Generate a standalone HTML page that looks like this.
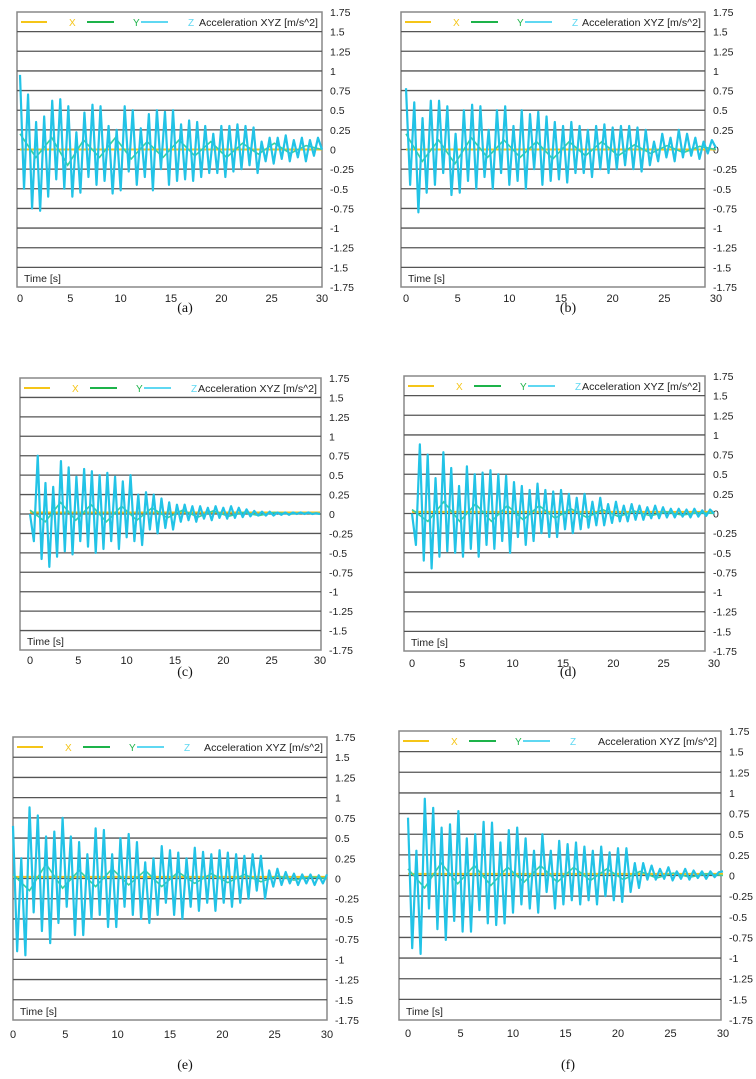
<!DOCTYPE html>
<html><head><meta charset="utf-8"><style>
html,body{margin:0;padding:0;background:#fff;}
svg{display:block;font-family:"Liberation Sans",sans-serif;}
</style></head><body>
<svg id="fig" width="756" height="1079" viewBox="0 0 756 1079"></svg>
<script>
const yTicks = ["1.75","1.5","1.25","1","0.75","0.5","0.25","0","-0.25","-0.5","-0.75","-1","-1.25","-1.5","-1.75"];
const xTicks = [0,5,10,15,20,25,30];
const captions = ["(a)","(b)","(c)","(d)","(e)","(f)"];
const zA = [0.95,-0.5,0.7,-0.75,0.35,-0.78,0.42,-0.6,0.62,-0.38,0.64,-0.5,0.55,-0.6,0.22,-0.55,0.47,-0.35,0.57,-0.45,0.55,-0.4,0.3,-0.56,0.25,-0.52,0.55,-0.28,0.5,-0.45,0.27,-0.35,0.45,-0.52,0.5,-0.25,0.48,-0.45,0.5,-0.4,0.32,-0.38,0.37,-0.4,0.35,-0.35,0.3,-0.3,0.2,-0.3,0.3,-0.35,0.3,-0.28,0.32,-0.25,0.3,-0.2,0.28,-0.3,0.1,-0.15,0.15,-0.18,0.15,-0.12,0.18,-0.15,0.12,-0.1,0.15,-0.15,0.12,-0.08,0.15,0.0];
const zB = [0.78,-0.45,0.6,-0.8,0.4,-0.55,0.62,-0.45,0.62,-0.3,0.55,-0.58,0.2,-0.55,0.5,-0.4,0.57,-0.5,0.55,-0.35,0.25,-0.5,0.5,-0.3,0.55,-0.45,0.3,-0.4,0.5,-0.5,0.45,-0.25,0.48,-0.45,0.42,-0.4,0.35,-0.38,0.3,-0.42,0.35,-0.3,0.3,-0.3,0.25,-0.35,0.3,-0.25,0.32,-0.3,0.28,-0.25,0.3,-0.2,0.3,-0.25,0.28,-0.28,0.25,-0.2,0.1,-0.15,0.2,-0.1,0.15,-0.15,0.25,-0.1,0.2,-0.08,0.15,-0.12,0.1,-0.05,0.12,0.02];
const zC = [0.0,-0.35,0.75,-0.58,0.4,-0.68,0.35,-0.55,0.68,-0.48,0.6,-0.52,0.48,-0.35,0.58,-0.42,0.55,-0.5,0.5,-0.45,0.53,-0.35,0.48,-0.45,0.42,-0.3,0.5,-0.35,0.25,-0.4,0.28,-0.2,0.25,-0.25,0.2,-0.18,0.15,-0.2,0.12,-0.1,0.12,-0.08,0.1,-0.1,0.1,-0.06,0.08,-0.08,0.1,-0.05,0.08,-0.06,0.1,-0.05,0.08,-0.04,0.06,-0.03,0.04,-0.02,0.03,-0.02,0.03,-0.02,0.02,-0.01,0.02,-0.01,0.02,0.0,0.02,0.0,0.02,0.0,0.01,0.0];
const zD = [0.0,-0.4,0.88,-0.6,0.75,-0.7,0.45,-0.55,0.78,-0.48,0.58,-0.5,0.35,-0.55,0.6,-0.45,0.5,-0.55,0.52,-0.4,0.55,-0.45,0.5,-0.35,0.48,-0.5,0.4,-0.3,0.35,-0.4,0.3,-0.35,0.38,-0.25,0.3,-0.3,0.28,-0.3,0.3,-0.2,0.25,-0.25,0.2,-0.2,0.25,-0.18,0.15,-0.15,0.2,-0.15,0.12,-0.12,0.15,-0.1,0.1,-0.1,0.12,-0.08,0.1,-0.08,0.08,-0.06,0.1,-0.06,0.08,-0.05,0.06,-0.05,0.06,-0.04,0.05,-0.05,0.06,-0.04,0.04,-0.03,0.05,0.0];
const zE = [0.65,-0.9,0.25,-0.95,0.88,-0.42,0.78,-0.65,0.52,-0.8,0.58,-0.55,0.75,-0.35,0.52,-0.7,0.45,-0.7,0.3,-0.5,0.62,-0.45,0.6,-0.6,0.3,-0.6,0.5,-0.35,0.55,-0.45,0.45,-0.5,0.2,-0.55,0.25,-0.45,0.4,-0.3,0.35,-0.45,0.32,-0.5,0.25,-0.35,0.38,-0.4,0.33,-0.3,0.3,-0.4,0.35,-0.3,0.32,-0.35,0.3,-0.3,0.28,-0.25,0.3,-0.15,0.28,-0.25,0.1,-0.1,0.12,-0.08,0.08,-0.06,0.06,-0.08,0.05,-0.06,0.05,-0.08,0.04,-0.06,0.05];
const zF = [0.7,-0.88,0.3,-0.95,0.93,-0.4,0.82,-0.65,0.58,-0.78,0.62,-0.55,0.78,-0.68,0.45,-0.68,0.5,-0.42,0.65,-0.58,0.64,-0.6,0.4,-0.58,0.55,-0.45,0.58,-0.35,0.45,-0.4,0.3,-0.45,0.5,-0.2,0.3,-0.4,0.42,-0.35,0.38,-0.3,0.4,-0.35,0.35,-0.3,0.3,-0.35,0.35,-0.25,0.28,-0.3,0.33,-0.32,0.33,-0.2,0.15,-0.15,0.15,-0.05,0.12,-0.05,0.08,-0.04,0.1,-0.06,0.05,-0.04,0.08,-0.05,0.06,-0.03,0.05,-0.04,0.05,-0.02,0.04,0.05];
const yA = [0.2,-0.1,0.15,-0.2,0.12,-0.1,0.15,-0.12,0.1,-0.1,0.12,-0.08,0.1,-0.1,0.08,-0.06,0.08,-0.05,0.05,0.0];
const yB = [0.2,-0.15,0.12,-0.18,0.15,-0.1,0.12,-0.1,0.1,-0.12,0.1,-0.08,0.1,-0.08,0.06,-0.05,0.05,-0.04,0.04,0.0];
const yC = [0.05,-0.1,0.15,-0.08,0.12,-0.1,0.1,-0.08,0.08,-0.05,0.05,-0.04,0.04,-0.03,0.02,-0.02,0.02,0.0,0.01,0.0];
const yD = [0.05,-0.1,0.15,-0.1,0.12,-0.1,0.1,-0.08,0.1,-0.06,0.06,-0.05,0.05,-0.04,0.03,-0.03,0.02,-0.02,0.01,0.0];
const yE = [0.05,-0.15,0.18,-0.12,0.1,-0.1,0.12,-0.08,0.1,-0.1,0.08,-0.06,0.06,-0.05,0.05,-0.04,0.03,-0.02,0.02,0.0];
const yF = [0.08,-0.15,0.15,-0.1,0.12,-0.12,0.1,-0.08,0.12,-0.08,0.1,-0.06,0.08,-0.05,0.05,-0.03,0.03,-0.02,0.02,0.0];
const xOffsets = [0.0,0.0,0.02,0.02,0.02,0.02];
const zSeries = [zA,zB,zC,zD,zE,zF];
const ySeries = [yA,yB,yC,yD,yE,yF];

const panels = [
 {L:17,R:322,T:12,B:287,x0:20,x30:322,xl:298,cx:185,cy:312},
 {L:401,R:705,T:12,B:287,x0:406,x30:716,xl:298,cx:568,cy:312},
 {L:20,R:321,T:378,B:650,x0:30,x30:320,xl:660,cx:185,cy:676},
 {L:404,R:705,T:376,B:651,x0:412,x30:714,xl:663,cx:568,cy:676},
 {L:13,R:327,T:737,B:1020,x0:13,x30:327,xl:1034,cx:185,cy:1069},
 {L:399,R:721,T:731,B:1020,x0:408,x30:723,xl:1033,cx:568,cy:1069}
];
const NS="http://www.w3.org/2000/svg";
const svg=document.getElementById('fig');
function mk(tag,attrs,parent){const e=document.createElementNS(NS,tag);for(const k in attrs)e.setAttribute(k,attrs[k]);parent.appendChild(e);return e;}
panels.forEach((p,pi)=>{
  const g=mk('g',{},svg);
  
  
  const yS=v=>p.T+(1.75-v)/3.5*(p.B-p.T);
  const xS=t=>p.x0+t/30*(p.x30-p.x0);
  const bg=mk('rect',{x:p.L,y:p.T,width:p.R-p.L,height:p.B-p.T,fill:'#fff',stroke:'#888','stroke-width':1.5},g);
  
  
  yTicks.forEach((lab,i)=>{
    const v=1.75-i*0.25;const y=yS(v);
    if(i>0&&i<yTicks.length-1){const gl=mk('line',{x1:p.L,x2:p.R,y1:y,y2:y,stroke:'#555','stroke-width':1.3},g);
      
      }
    const t=mk('text',{x:p.R+8,y:y+4,'font-size':10.5,fill:'#222'},g);t.textContent=lab;
    
    
  });
  xTicks.forEach(v=>{
    const t=mk('text',{x:xS(v),y:p.xl+4,'font-size':11,fill:'#222','text-anchor':'middle'},g);t.textContent=v;
    
    
  });
  const z=zSeries[pi],yy=ySeries[pi];
  const xo=xOffsets[pi];
  const xl=mk('line',{x1:xS(0),x2:xS(30),y1:yS(xo),y2:yS(xo),stroke:'#f2c21b','stroke-width':2},g);
  
  
  const yp=mk('polyline',{points:yy.map((v,i)=>xS(i*30/(yy.length-1))+','+yS(v)).join(' '),fill:'none',stroke:'#3ccf9a','stroke-width':1.6},g);
  
  
  const zp=mk('polyline',{points:z.map((v,i)=>xS(i*30/(z.length-1))+','+yS(v)).join(' '),fill:'none',stroke:'#22c3e6','stroke-width':2.2,'stroke-linejoin':'round'},g);
  
  
  // legend
  const ly=p.T+10;
  const leg=[['#f5c518','X',4,30,52],['#1db34a','Y',70,97,116],['#5fd8f2','Z',124,151,171]];
  leg.forEach(l=>{
    const ln=mk('line',{x1:p.L+l[2],x2:p.L+l[3],y1:ly,y2:ly,stroke:l[0],'stroke-width':2},g);
    
    
    const tx=mk('text',{x:p.L+l[4],y:ly+4,'font-size':10,fill:l[0]},g);tx.textContent=l[1];
    
    
  });
  const ti=mk('text',{x:p.R-4,y:ly+4,'font-size':10,fill:'#222','text-anchor':'end',textLength:119,lengthAdjust:'spacingAndGlyphs'},g);ti.textContent='Acceleration XYZ [m/s^2]';
  
  
  const tt=mk('text',{x:p.L+7,y:p.B-5,'font-size':10.5,fill:'#222'},g);tt.textContent='Time [s]';
  
  
  const cp=mk('text',{x:p.cx,y:p.cy,'font-size':14,fill:'#111','text-anchor':'middle','font-family':'Liberation Serif, serif'},g);cp.textContent=captions[pi];
  
  
});
</script>
</body></html>
